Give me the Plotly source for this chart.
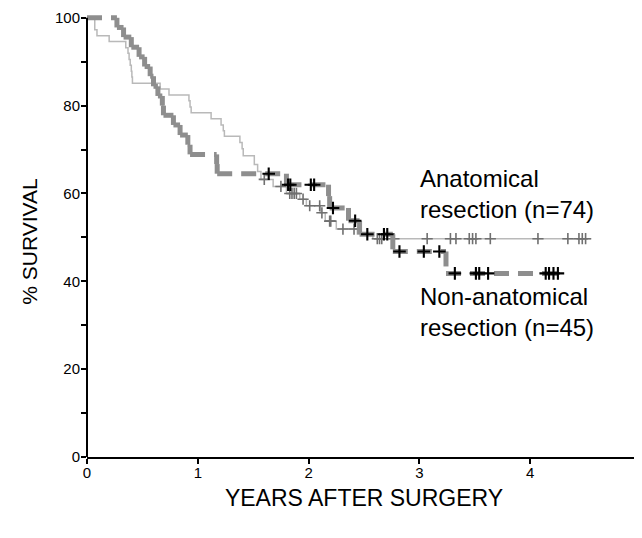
import numpy as np
import plotly.graph_objects as go

# ---------------- data ----------------
# Anatomical resection (n=74): Kaplan-Meier step times (years) and survival (%)
anat_t = [0, 0.07, 0.09, 0.20, 0.35, 0.37, 0.38, 0.39, 0.40, 0.405, 0.41, 0.66, 0.74,
          0.92, 0.93, 0.94, 1.12, 1.21, 1.23, 1.24, 1.38, 1.40, 1.41, 1.51, 1.54, 1.57,
          1.68, 1.80, 1.92, 1.98, 2.105, 2.15, 2.25, 2.44, 2.58]
anat_s = [100, 97.3, 95.9, 94.6, 93.2, 91.9, 90.5, 89.2, 87.8, 86.5, 85.1, 83.8, 82.4,
          81.1, 79.7, 78.4, 77.0, 75.6, 74.3, 73.0, 71.6, 70.2, 68.6, 66.6, 65.0, 63.2,
          61.6, 60.0, 58.7, 57.2, 55.6, 53.7, 51.9, 50.8, 49.7]
anat_end = 4.55
anat_censor = [1.60, 1.75, 1.83, 1.85, 1.87, 1.89, 1.95, 2.01, 2.10, 2.12, 2.19, 2.20,
               2.31, 2.41, 2.62, 2.64, 2.66, 2.77, 3.07, 3.28, 3.33, 3.45, 3.48, 3.51,
               3.64, 4.07, 4.34, 4.44, 4.47, 4.50]

# Non-anatomical resection (n=45)
non_t = [0, 0.27, 0.33, 0.40, 0.47, 0.52, 0.57, 0.60, 0.64, 0.68, 0.69, 0.78, 0.84,
         0.91, 0.93, 1.17, 1.175, 1.80, 2.18, 2.19, 2.36, 2.46, 2.76, 3.24]
non_s = [100, 97.8, 95.6, 93.3, 91.1, 88.9, 86.7, 84.4, 82.2, 80.0, 77.8, 75.6, 73.3,
         71.1, 68.9, 66.7, 64.5, 62.0, 59.4, 56.7, 53.8, 50.7, 46.8, 41.8]
non_end = 4.28
non_censor = [1.64, 1.815, 1.835, 2.02, 2.05, 2.22, 2.42, 2.53, 2.68, 2.71, 2.82, 3.04,
              3.18, 3.32, 3.51, 3.54, 3.62, 4.14, 4.17, 4.21, 4.25]

x_ticks = [0, 1, 2, 3, 4, 5]
y_ticks = [0, 10, 20, 30, 40, 50, 60, 70, 80, 90, 100]
y_ticklabels = ["0", "", "20", "", "40", "", "60", "", "80", "", "100"]

label_anat = "Anatomical<br>resection (n=74)"
label_non = "Non-anatomical<br>resection (n=45)"
x_title = "YEARS AFTER SURGERY"
y_title = "% SURVIVAL"


def value_at(times, surv, c):
    idx = np.searchsorted(np.asarray(times), np.asarray(c), side="right") - 1
    return list(np.asarray(surv)[idx])


def segments(times, surv, end):
    """Each horizontal / vertical piece of the step curve as its own sub-path,
    so the dash pattern restarts on every piece (as in the original plot)."""
    xs, ys = [], []
    nxt = list(times[1:]) + [end]
    for i in range(len(times)):
        xs += [times[i], nxt[i], None]
        ys += [surv[i], surv[i], None]
        if i + 1 < len(times):
            xs += [nxt[i], nxt[i], None]
            ys += [surv[i], surv[i + 1], None]
    return xs, ys


fig = go.Figure()

# Anatomical: thin light grey solid line
fig.add_trace(go.Scatter(
    x=list(anat_t) + [anat_end], y=list(anat_s) + [anat_s[-1]],
    mode="lines", line=dict(shape="hv", color="#b9b9b9", width=1.5),
    hoverinfo="skip", showlegend=False))
fig.add_trace(go.Scatter(
    x=anat_censor, y=value_at(anat_t, anat_s, anat_censor),
    mode="markers", marker=dict(symbol="cross-thin", size=8,
                                line=dict(color="#707070", width=1.6)),
    showlegend=False))

# Non-anatomical: thick grey dashed line
sx, sy = segments(non_t, non_s, non_end)
fig.add_trace(go.Scatter(
    x=sx, y=sy, mode="lines", connectgaps=False,
    line=dict(color="#8e8e8e", width=5, dash="15px,9px"),
    hoverinfo="skip", showlegend=False))
fig.add_trace(go.Scatter(
    x=non_censor, y=value_at(non_t, non_s, non_censor),
    mode="markers", marker=dict(symbol="cross-thin", size=9,
                                line=dict(color="black", width=2.1)),
    showlegend=False))

FONT = "Liberation Sans, Arial, Helvetica, sans-serif"
YMAX = 102

fig.update_layout(
    width=634, height=530,
    margin=dict(l=79, r=1, t=1, b=81, autoexpand=False),
    paper_bgcolor="white", plot_bgcolor="white",
    font=dict(family=FONT, color="black"),
    xaxis=dict(range=[0, 5], tickmode="array", tickvals=x_ticks,
               ticks="outside", ticklen=5, tickwidth=1.5, tickcolor="black",
               showline=True, linecolor="black", linewidth=2,
               showgrid=False, zeroline=False, automargin=False,
               ticklabeloverflow="allow", ticklabelstandoff=-4,
               tickfont=dict(size=15, family=FONT),
               title=dict(text=x_title,
                          font=dict(size=23, family=FONT), standoff=10)),
    yaxis=dict(range=[0, YMAX], tickmode="array", tickvals=y_ticks,
               ticktext=y_ticklabels,
               ticks="outside", ticklen=5, tickwidth=1.5, tickcolor="black",
               showline=False, showgrid=False, zeroline=False, automargin=False,
               ticklabeloverflow="allow", ticklabelstandoff=-2,
               tickfont=dict(size=15, family=FONT)),
    shapes=[dict(type="line", xref="paper", yref="paper",
                 x0=0, x1=0, y0=0, y1=100 / YMAX,
                 line=dict(color="black", width=2))],
    annotations=[
        dict(text=y_title, textangle=-90, x=-0.103, y=49, xref="paper", yref="y",
             xanchor="center", yanchor="middle", showarrow=False,
             font=dict(size=21, family=FONT)),
        dict(text=label_anat, x=2.99, y=59.8, xref="x", yref="y",
             xanchor="left", yanchor="middle", align="left", showarrow=False,
             font=dict(size=24, family=FONT)),
        dict(text=label_non, x=2.99, y=33.1, xref="x", yref="y",
             xanchor="left", yanchor="middle", align="left", showarrow=False,
             font=dict(size=24, family=FONT)),
    ],
)

fig.write_html("out.html")
